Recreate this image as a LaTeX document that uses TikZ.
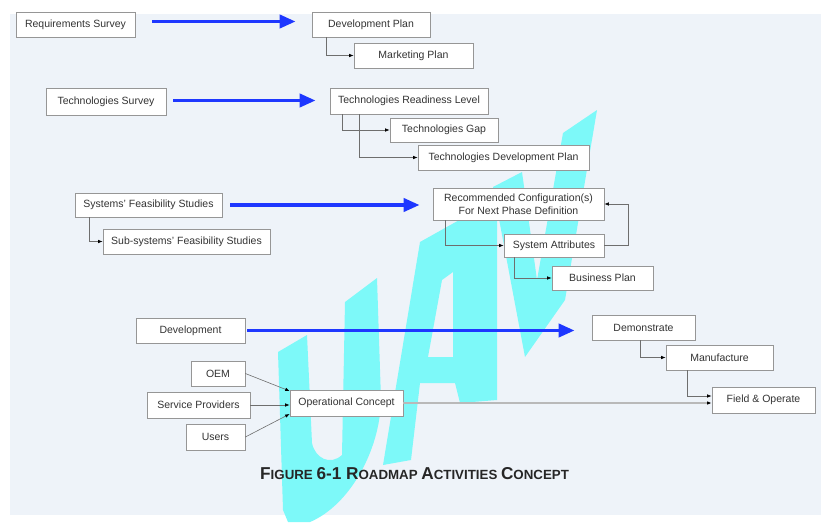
\documentclass[tikz,border=0pt]{standalone}
\usepackage{fontspec}
\setmainfont{Liberation Sans}
\usetikzlibrary{arrows.meta,shadows}
\definecolor{bgc}{RGB}{238,243,249}
\definecolor{wmc}{RGB}{125,249,249}
\definecolor{arrowblue}{RGB}{30,55,255}
\definecolor{boxline}{RGB}{150,150,150}
\definecolor{connc}{RGB}{110,110,110}
\definecolor{lightc}{RGB}{185,185,185}
\newcommand{\mkbox}[6]{\node[box,minimum width={(#4)-(#2)},minimum height={(#5)-(#3)}] (#1) at ({((#2)+(#4))/2},{((#3)+(#5))/2}) {#6};}
\begin{document}
\begin{tikzpicture}[x=1pt,y=-1pt,
 box/.style={draw=boxline, fill=white, line width=0.7pt, inner sep=0pt, align=center,
   font=\fontsize{10.5}{13}\selectfont, text=black!80,
   drop shadow={shadow xshift=1pt, shadow yshift=-1pt, opacity=0.25, fill=black!50}},
 bluearrow/.style={draw=arrowblue, line width=3.8pt, -{Triangle[length=16pt,width=13pt]}},
 conn/.style={draw=connc, line width=0.6pt, -{Latex[length=4.5pt,width=3.5pt,black]}},
 lightconn/.style={draw=lightc, line width=1.6pt, -{Latex[length=4.5pt,width=3.5pt,black]}},
 wm/.style={fill=wmc}]
\useasboundingbox (0,0) rectangle (824,522);
\fill[white] (0,0) rectangle (824,522);
\fill[bgc] (10,14) rectangle (821,515);
% watermark UAV
\fill[wm] (278,352) -- (307,335) -- (312,443) .. controls (315,458) and (330,466) .. (342,455)
  -- (345,302) -- (377,278) -- (381,400) .. controls (380,450) and (350,505) .. (310,522)
  -- (288,522) -- (283,510) -- cycle;
\fill[wm, even odd rule] (383,465) -- (420,242) -- (470,214) -- (497,205) -- (497,400) -- (460,403)
  -- (455,383) -- (420,383) -- (411,460) -- cycle
  (442,280) -- (453,272) -- (453,357) -- (428,357) -- cycle;
\fill[wm] (493,187) -- (522,172) -- (537,280) -- (563,133) -- (597,110) -- (565,300) -- (525,357) -- cycle;
% boxes
\mkbox{rs}{16}{12}{135}{37}{Requirements Survey}
\mkbox{dp}{312}{12}{430}{37}{Development Plan}
\mkbox{mp}{354}{43}{473}{68}{Marketing Plan}
\mkbox{ts}{46}{88}{166}{115}{Technologies Survey}
\mkbox{trl}{330}{88}{488}{114}{Technologies Readiness Level}
\mkbox{tg}{390}{118}{498}{142}{Technologies Gap}
\mkbox{tdp}{418}{145}{589}{170}{Technologies Development Plan}
\mkbox{sfs}{75}{193}{222}{217}{Systems' Feasibility Studies}
\mkbox{ssfs}{103}{229}{270}{254}{Sub-systems' Feasibility Studies}
\mkbox{rc}{433}{188}{604}{220}{Recommended Configuration(s)\\For Next Phase Definition}
\mkbox{sa}{504}{234}{604}{257}{System Attributes}
\mkbox{bp}{552}{266}{653}{290}{Business Plan}
\mkbox{dev}{136}{318}{245}{343}{Development}
\mkbox{dem}{592}{315}{695}{340}{Demonstrate}
\mkbox{man}{666}{345}{773}{370}{Manufacture}
\mkbox{fo}{712}{387}{815}{413}{Field \& Operate}
\mkbox{oem}{191}{361}{245}{386}{OEM}
\mkbox{sp}{147}{392}{250}{418}{Service Providers}
\mkbox{us}{186}{424}{245}{450}{Users}
\mkbox{oc}{290}{390}{403}{416}{Operational Concept}
% blue arrows (kept horizontal)
\coordinate (t1) at ([xshift=-16pt]dp.west);
\coordinate (t2) at ([xshift=-14pt]trl.west);
\coordinate (t3) at ([xshift=-13pt]rc.west);
\coordinate (t4) at ([xshift=-17pt]dem.west);
\coordinate (s1) at ([xshift=17pt,yshift=3pt]rs.east);
\coordinate (s2) at ([xshift=7pt,yshift=1pt]ts.east);
\coordinate (s3) at ([xshift=8pt]sfs.east);
\coordinate (s4) at ([xshift=2pt]dev.east);
\draw[bluearrow] (s1) -- (s1 -| t1);
\draw[bluearrow] (s2) -- (s2 -| t2);
\draw[bluearrow] (s3) -- (s3 -| t3);
\draw[bluearrow] (s4) -- (s4 -| t4);
% connectors
\draw[conn] ([xshift=15pt]dp.south west) |- (mp.west);
\draw[conn] ([xshift=13pt]trl.south west) |- (tg.west);
\draw[conn] ([xshift=30pt]trl.south west) |- (tdp.west);
\draw[conn] ([xshift=15pt]sfs.south west) |- (ssfs.west);
\draw[conn] ([xshift=13pt]rc.south west) |- (sa.west);
\draw[conn] (sa.east) -- ++(24,0) |- (rc.east);
\draw[conn] ([xshift=11pt]sa.south west) |- (bp.west);
\draw[conn] ([xshift=49pt]dem.south west) |- (man.west);
\draw[conn] ([xshift=22pt]man.south west) |- ([yshift=4pt]fo.west);
\draw[lightconn] (oc.east) -- (oc.east -| fo.west);
\draw[conn] (oem.east) -- ([yshift=12pt]oc.west);
\draw[conn] (sp.east) -- (sp.east -| oc.west);
\draw[conn] (us.east) -- ([yshift=-11pt]oc.west);
% caption
\node[anchor=base west, inner sep=0pt, text=black!85, font=\bfseries] (cap) at (260,479)
 {\fontsize{17.2}{18}\selectfont F\fontsize{13.3}{18}\selectfont IGURE \fontsize{17.2}{18}\selectfont 6-1 R\fontsize{13.3}{18}\selectfont OADMAP \fontsize{17.2}{18}\selectfont A\fontsize{13.3}{18}\selectfont CTIVITIES \fontsize{17.2}{18}\selectfont C\fontsize{13.3}{18}\selectfont ONCEPT};
\end{tikzpicture}
\end{document}
